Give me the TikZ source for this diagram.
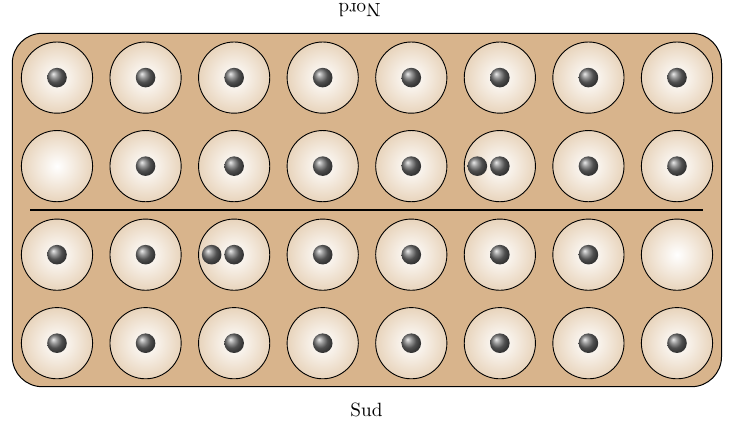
\documentclass[tikz,border=0pt]{standalone}
\usetikzlibrary{shadings}
\definecolor{boardtan}{RGB}{216,180,140}
\definecolor{pitedge}{RGB}{232,212,188}
\tikzset{
  board/.style={fill=boardtan, draw=black, line width=1pt, rounded corners=30pt},
  pit/.style={inner color=white, outer color=pitedge, draw=black, line width=0.9pt},
  stone/.style={ball color=black!55},
  divider/.style={line width=2.3pt, draw=black},
  label/.style={font=\normalsize, scale=1.92, inner sep=0pt, anchor=base}
}
\begin{document}
\begin{tikzpicture}[x=1pt,y=-1pt]
\useasboundingbox (0,0) rectangle (738,426);
\path[board] (12.3,33.3) rectangle (721.5,386.7);
\coordinate (lineL) at (30,210.3);
\coordinate (lineR) at (703.3,210.3);
\draw[divider] (lineL) -- (lineR);
\foreach \r in {1,...,4}{
  \foreach \c in {1,...,8}{
    \pgfmathsetmacro{\px}{57+88.57*(\c-1)}
    \pgfmathsetmacro{\py}{77.6+88.53*(\r-1)}
    \coordinate (p-\r-\c) at (\px,\py);
    \shade[pit] (p-\r-\c) circle (35.6);
  }
}
% single stones
\foreach \r/\c in {1/1,1/2,1/3,1/4,1/5,1/6,1/7,1/8,
                   2/2,2/3,2/4,2/5,2/7,2/8,
                   3/1,3/2,3/4,3/5,3/6,3/7,
                   4/1,4/2,4/3,4/4,4/5,4/6,4/7,4/8}{
  \shade[stone] (p-\r-\c) circle (9.8);
}
% double stones
\shade[stone] ([xshift=-22.5pt]p-2-6) circle (9.8);
\shade[stone] (p-2-6) circle (9.8);
\shade[stone] ([xshift=-22.5pt]p-3-3) circle (9.8);
\shade[stone] (p-3-3) circle (9.8);
\node[label, rotate=180] (nord) at (359.5,3.5) {Nord};
\node[label] (sud) at (366.5,416.5) {Sud};
\end{tikzpicture}
\end{document}
